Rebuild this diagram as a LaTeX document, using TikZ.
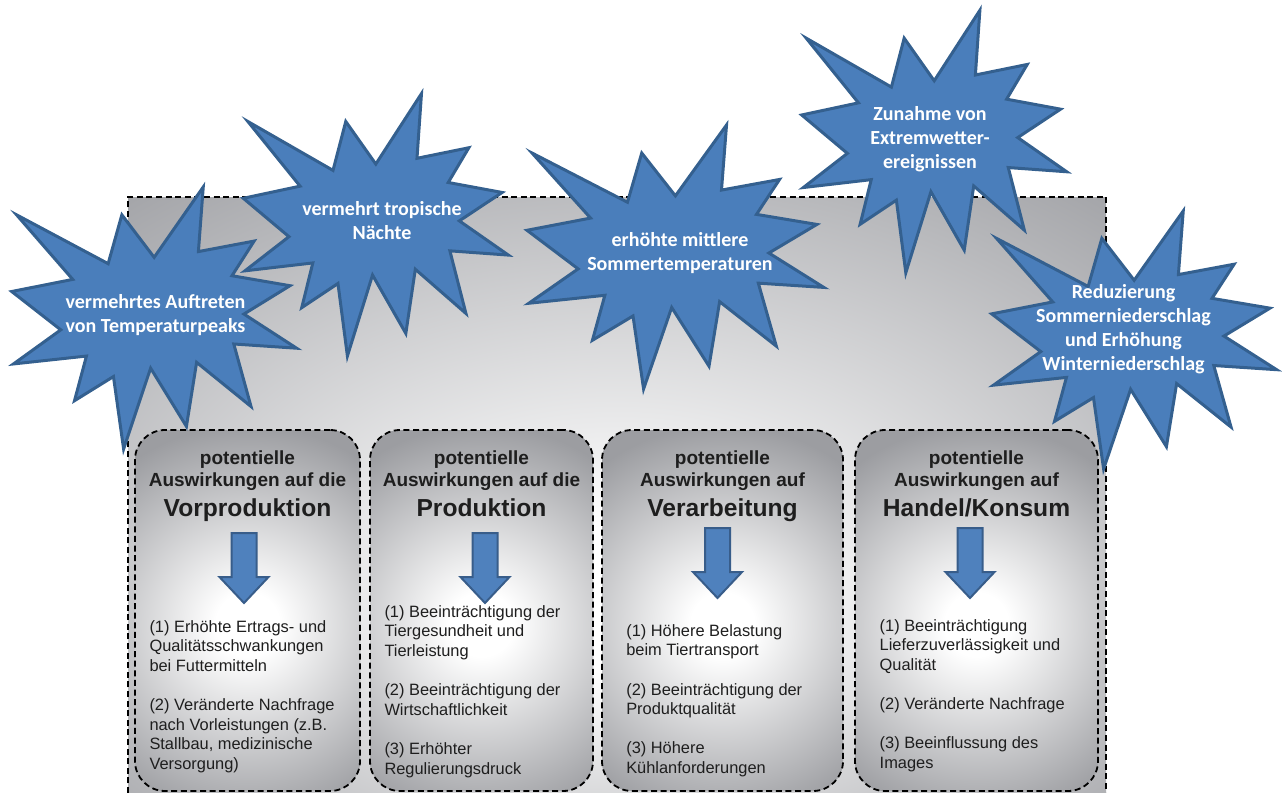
\documentclass[tikz,border=0pt]{standalone}
\usepackage{fontspec}
\setmainfont{Liberation Sans}
\newfontfamily\burstfont{Carlito}
\usetikzlibrary{positioning}

\definecolor{BurstBlue}{HTML}{4A7EBB}
\definecolor{BurstEdge}{HTML}{34608F}
\definecolor{ArrowBlue}{HTML}{4F81BD}
\definecolor{ArrowEdge}{HTML}{385D8A}
\definecolor{PanelGray}{HTML}{A2A3A7}
\definecolor{BoxGray}{HTML}{9C9DA1}
\definecolor{InkBlack}{HTML}{1E1E1E}

% light spot low in the middle, grey towards the edges
\pgfdeclareradialshading{panelglow}{\pgfpoint{0bp}{-10bp}}{color(0bp)=(white); color(6bp)=(white); color(38bp)=(PanelGray); color(50bp)=(PanelGray)}
% round glow, put into the stage boxes as a circle
\pgfdeclareradialshading{boxglow}{\pgfpoint{0bp}{0bp}}{color(0bp)=(white); color(4bp)=(white); color(25bp)=(BoxGray); color(50bp)=(BoxGray)}

\begin{document}
\begin{tikzpicture}[x=0.5pt, y=-0.5pt,
    impactbox/.style={shape=rectangle,
      rounded corners=15pt,
      draw=black,
      dash pattern=on 3pt off 1.8pt,
      line width=0.9pt,
      fill=BoxGray,
      path picture={\shade[shading=boxglow]
        ([yshift=-7pt]path picture bounding box.center) circle[radius=100pt];},
      minimum height=180.5pt},
    boxtitle/.style={font=\bfseries\fontsize{9.5}{11}\selectfont,
      text=InkBlack,
      align=center,
      inner sep=0pt},
    boxlist/.style={font=\fontsize{8.2}{9.8}\selectfont,
      text=InkBlack,
      align=left,
      inner sep=0pt},
    bursttext/.style={font=\burstfont\bfseries\fontsize{10}{12}\selectfont,
      text=white,
      align=center},
    burst/.pic={
      \filldraw[fill=BurstBlue, draw=BurstEdge, line width=1.5pt]
        (108,58) -- (145.22,0) -- (141.55,53.25) -- (183.80,44.57)
        -- (167.02,73.15) -- (210.97,81.37) -- (176.07,104.75)
        -- (216,132.90) -- (168.37,129.42) -- (181.45,180.95)
        -- (140.20,144.57) -- (132.47,197.37) -- (105.32,149.35)
        -- (84.85,216) -- (77.15,156.27) -- (47.62,176.17)
        -- (56.67,139.37) -- (1.35,145.87) -- (37.22,117.75)
        -- (0,86.15) -- (46.27,76.17) -- (3.70,22.95)
        -- (73.12,63.20) -- (83.52,22.95) -- cycle;
    },
    downarrow/.pic={
      \filldraw[fill=ArrowBlue, draw=ArrowEdge, line width=1pt]
        (-12.5,0) -- (12.5,0) -- (12.5,44) -- (24.5,44) -- (0,70)
        -- (-24.5,44) -- (-12.5,44) -- cycle;
    }]
    \useasboundingbox (0,0) rectangle (1282,793);

    % grey panel behind everything
    \shade[shading=panelglow] (128,197) rectangle (1106,793);
    \draw[line width=0.9pt, dash pattern=on 3pt off 1.8pt]
      (128,793) -- (128,197) -- (1106,197) -- (1106,793);

    % the four stages
    \node[name=vorprod, impactbox, minimum width=112.5pt] at (247.5,610.5) {};
    \node[name=prod, impactbox, minimum width=111.5pt] at (481.5,610.5) {};
    \node[name=verarb, impactbox, minimum width=120.5pt] at (722.5,610.5) {};
    \node[name=handel, impactbox, minimum width=121.5pt] at (976.5,610.5) {};

    \node[name=vorprodtitle, boxtitle, below=10.5pt of vorprod.north]
      {potentielle\\Auswirkungen auf die\\[4pt]{\fontsize{12.3}{14}\selectfont Vorproduktion}};
    \node[name=prodtitle, boxtitle, below=10.5pt of prod.north]
      {potentielle\\Auswirkungen auf die\\[4pt]{\fontsize{12.3}{14}\selectfont Produktion}};
    \node[name=verarbtitle, boxtitle, below=10.5pt of verarb.north]
      {potentielle\\Auswirkungen auf\\[4pt]{\fontsize{12.3}{14}\selectfont Verarbeitung}};
    \node[name=handeltitle, boxtitle, below=10.5pt of handel.north]
      {potentielle\\Auswirkungen auf\\[4pt]{\fontsize{12.3}{14}\selectfont Handel/Konsum}};

    \pic at (244,533) {downarrow};
    \pic at (485,533) {downarrow};
    \pic at (717.5,528) {downarrow};
    \pic at (970,528) {downarrow};

    \node[name=vorprodlist, boxlist, below right=95.5pt and 7.5pt of vorprod.north west]
      {(1) Erhöhte Ertrags- und\\Qualitätsschwankungen\\bei Futtermitteln\\[9.8pt]%
       (2) Veränderte Nachfrage\\nach Vorleistungen (z.B.\\Stallbau, medizinische\\Versorgung)};
    \node[name=prodlist, boxlist, below right=88pt and 7.5pt of prod.north west]
      {(1) Beeinträchtigung der\\Tiergesundheit und\\Tierleistung\\[9.8pt]%
       (2) Beeinträchtigung der\\Wirtschaftlichkeit\\[9.8pt]%
       (3) Erhöhter\\Regulierungsdruck};
    \node[name=verarblist, boxlist, below right=97.5pt and 12.4pt of verarb.north west]
      {(1) Höhere Belastung\\beim Tiertransport\\[9.8pt]%
       (2) Beeinträchtigung der\\Produktqualität\\[9.8pt]%
       (3) Höhere\\Kühlanforderungen};
    \node[name=handellist, boxlist, below right=95pt and 12.6pt of handel.north west]
      {(1) Beeinträchtigung\\Lieferzuverlässigkeit und\\Qualität\\[9.8pt]%
       (2) Veränderte Nachfrage\\[9.8pt]%
       (3) Beeinflussung des\\Images};

    % climate drivers
    \pic[xscale=1.319, yscale=1.213] at (11.7,187) {burst};
    \pic[xscale=1.227, yscale=1.215] at (243.3,93.6) {burst};
    \pic[xscale=1.374, yscale=1.222] at (527,125) {burst};
    \pic[xscale=1.227, yscale=1.215] at (801.7,10.3) {burst};
    \pic[xscale=1.319, yscale=1.194] at (991.7,211) {burst};

    \node[name=peaks, bursttext] at (155.5,315.5) {vermehrtes Auftreten\\von Temperaturpeaks};
    \node[name=tropen, bursttext] at (382,220.5) {vermehrt tropische\\Nächte};
    \node[name=sommer, bursttext] at (680,253) {erhöhte mittlere\\Sommertemperaturen};
    \node[name=extrem, bursttext] at (930,139.5) {Zunahme von\\Extremwetter-\\ereignissen};
    \node[name=niederschlag, bursttext] at (1123.5,329.5) {Reduzierung\\Sommerniederschlag\\und Erhöhung\\Winterniederschlag};
\end{tikzpicture}
\end{document}
